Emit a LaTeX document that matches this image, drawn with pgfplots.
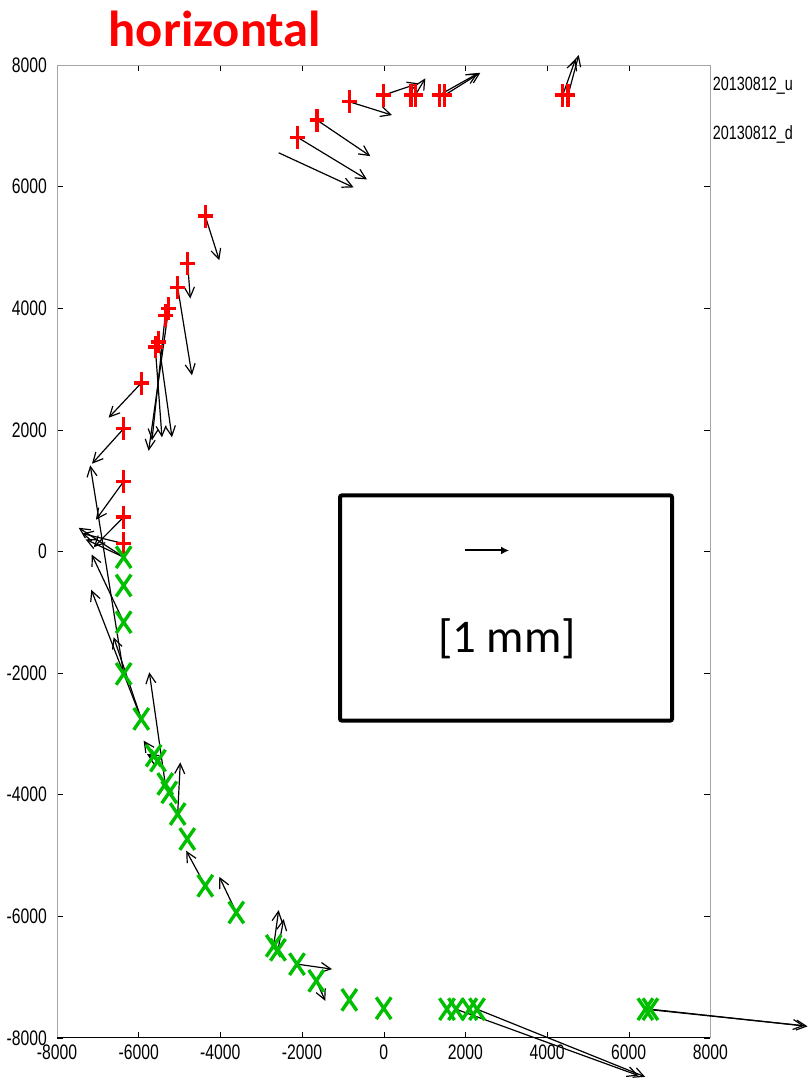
\documentclass[border=0pt]{standalone}
\usepackage{fontspec}
\setmainfont{Liberation Sans}
\usepackage{pgfplots}
\usepackage{pgfplotstable}
\pgfplotsset{compat=1.18}
\usetikzlibrary{arrows.meta}
\newfontfamily\narrowfont[FakeStretch=0.75]{Liberation Sans}
\newfontfamily\calibri{Carlito}
\definecolor{mred}{RGB}{255,0,0}
\definecolor{mgreen}{RGB}{0,190,0}

% marker positions
\pgfplotstableread{
x y
-6368 130
-6368 565
-6368 1152
-6368 2020
-5937 2770
-5594 3363
-5511 3445
-5349 3885
-5266 3995
-5045 4340
-4801 4736
-4369 5514
-2106 6810
-1634 7095
-842 7396
0 7506
669 7506
774 7506
1362 7506
1494 7506
4384 7506
4514 7506
}\ptsu
\pgfplotstableread{
x y
-6368 -94
-6368 -560
-6368 -1163
-6368 -2013
-5937 -2754
-5633 -3358
-5528 -3440
-5349 -3824
-5251 -3962
-5045 -4318
-4810 -4729
-4369 -5498
-3610 -5937
-2694 -6486
-2589 -6551
-2123 -6787
-1651 -7062
-842 -7374
0 -7512
1550 -7528
1771 -7528
2097 -7528
2285 -7528
6408 -7528
6530 -7528
}\ptsd

% arrows: start (x,y) and tip (xe,ye)
\pgfplotstableread{
x y xe ye
-4369 5514 -4026 4790
-4801 4736 -4736 4160
-5045 4340 -4695 2897
-5266 3995 -5756 1656
-5349 3885 -5675 1827
-5594 3363 -5430 1877
-5511 3445 -5185 1877
-5937 2770 -6735 2200
-6368 2020 -7144 1443
-6368 1152 -7046 522
-6368 565 -7100 70
-6368 130 -7390 296
-2106 6810 -409 6118
-1634 7095 -328 6502
-842 7396 203 7177
-2572 6557 -735 5987
0 7506 857 7699
774 7506 1019 7781
1362 7506 2300 7860
1494 7506 2366 7873
4384 7506 4700 8100
4514 7506 4776 8165
}\arru
\pgfplotstableread{
x y xe ye
-6368 -94 -7470 390
-6368 -94 -7300 200
-6368 -1163 -7150 -50
-6368 -2013 -7186 1416
-5937 -2754 -7161 -630
-5937 -2754 -6613 -1410
-5633 -3358 -5878 -3111
-5528 -3440 -5797 -3330
-5349 -3824 -5740 -1987
-5045 -4318 -4981 -3468
-4369 -5498 -4836 -4922
-3610 -5937 -4026 -5350
-2694 -6486 -2572 -5898
-2589 -6551 -2449 -6046
-2123 -6787 -1266 -6869
-1651 -7062 -1430 -7391
1771 -7528 6240 -8620
2285 -7528 6400 -8640
6408 -7528 10300 -7800
6530 -7528 10380 -7810
}\arrd

\begin{document}
\begin{tikzpicture}
\begin{axis}[
  scale only axis, width=326.75pt, height=486.5pt,
  xmin=-8000, xmax=8000, ymin=-8000, ymax=8000,
  xtick={-8000,-6000,...,8000}, ytick={-8000,-6000,...,8000},
  tick align=inside, major tick length=3pt,
  tick style={black},
  axis line style={gray!70},
  tick label style={font=\narrowfont\fontsize{10.5}{12}\selectfont},
  yticklabel style={xshift=-1.5pt},
  /pgf/number format/1000 sep={},
  /pgf/number format/assume math mode=true,
  clip=false,
  legend style={at={(rel axis cs:1,1)}, anchor=north west, draw=none, fill=none,
    font=\narrowfont\fontsize{9.6}{11}\selectfont, row sep=12pt, yshift=-2pt, xshift=-4pt},
  legend cell align=left,
]
\addlegendimage{empty legend}\addlegendentry{20130812\_u}
\addlegendimage{empty legend}\addlegendentry{20130812\_d}
\addplot[forget plot, only marks, mark=+, mred, mark size=3.7pt,
  mark options={line width=1.7pt, yscale=1.55}] table {\ptsu};
\addplot[forget plot, only marks, mark=x, mgreen, mark size=5.3pt,
  mark options={line width=1.7pt, yscale=1.45}] table {\ptsd};
\addplot[forget plot, black, line width=0.6pt, -{Straight Barb[length=5pt,width=5pt]},
  quiver={u=\thisrow{xe}-\thisrow{x}, v=\thisrow{ye}-\thisrow{y}}] table {\arru};
\addplot[forget plot, black, line width=0.6pt, -{Straight Barb[length=5pt,width=5pt]},
  quiver={u=\thisrow{xe}-\thisrow{x}, v=\thisrow{ye}-\thisrow{y}}] table {\arrd};
% scale arrow in the key box
\addplot[forget plot, black, line width=1pt, -{Latex[length=4pt,width=4pt]},
  quiver={u=\thisrow{u}, v=\thisrow{v}}] table {
x y u v
1992 16 1078 0
};
\draw[black, line width=0.6pt] (rel axis cs:0,0) -- (rel axis cs:1,0);
\draw[black, line width=2pt, rounded corners=1pt] (axis cs:-1070,922) rectangle (axis cs:7061,-2782);
\node[font=\calibri\fontsize{23.4}{28}\selectfont] at (axis cs:3020,-1432) {[1 mm]};
\node[text=mred, font=\calibri\bfseries\fontsize{25.3}{28}\selectfont] at (axis cs:-4132,8600) {horizontal};
\path (axis cs:-9349,9070) rectangle (axis cs:10416,-8640);
\end{axis}
\end{tikzpicture}
\end{document}
